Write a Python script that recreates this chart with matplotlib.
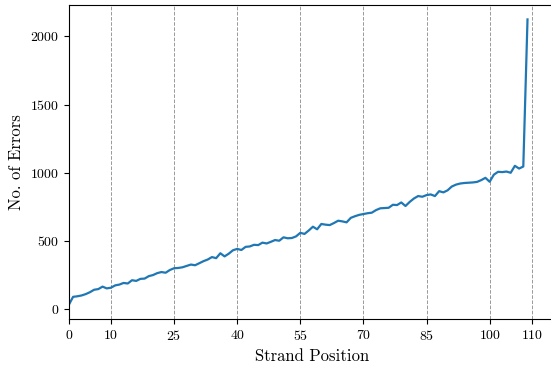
import matplotlib
matplotlib.use('Agg')
import matplotlib.pyplot as plt

# errors per strand position
positions = list(range(110))
errors = [30, 88, 92, 98, 108, 122, 140, 145, 163, 150,
          155, 172, 178, 190, 186, 210, 205, 220, 222, 240,
          248, 262, 270, 265, 285, 298, 300, 305, 315, 325,
          320, 335, 350, 362, 380, 372, 408, 385, 405, 430,
          440, 432, 455, 458, 470, 468, 486, 480, 492, 505,
          500, 525, 518, 520, 532, 558, 550, 575, 603, 584,
          623, 618, 615, 630, 647, 642, 635, 668, 680, 690,
          696, 702, 706, 725, 738, 740, 742, 764, 762, 781,
          755, 785, 810, 828, 823, 835, 840, 828, 864, 855,
          870, 898, 912, 920, 924, 926, 928, 932, 945, 962,
          933, 985, 1006, 1004, 1008, 999, 1050, 1030, 1045, 2125]
xticks = [0, 10, 25, 40, 55, 70, 85, 100, 110]

plt.rcParams['font.family'] = 'serif'
plt.rcParams['font.serif'] = ['cmr10']
plt.rcParams['mathtext.fontset'] = 'cm'
plt.rcParams['axes.formatter.use_mathtext'] = True

fig = plt.figure(figsize=(5.51, 3.69), dpi=100)
# right spine sits just past the image edge, as in the reference
ax = fig.add_axes([0.125, 0.1355, 0.882, 0.8505])

ax.plot(positions, errors, color='#1f77b4', linewidth=1.6)

ax.set_xticks(xticks)
ax.set_xlim(0, 115.5)
ax.set_yticks([0, 500, 1000, 1500, 2000])
ax.grid(axis='x', linestyle='--', color='#999999', linewidth=0.7)
ax.set_axisbelow(True)

ax.set_xlabel('Strand Position', fontsize=12)
ax.set_ylabel('No. of Errors', fontsize=12)
ax.tick_params(labelsize=10)

plt.savefig('out.png', dpi=100)
